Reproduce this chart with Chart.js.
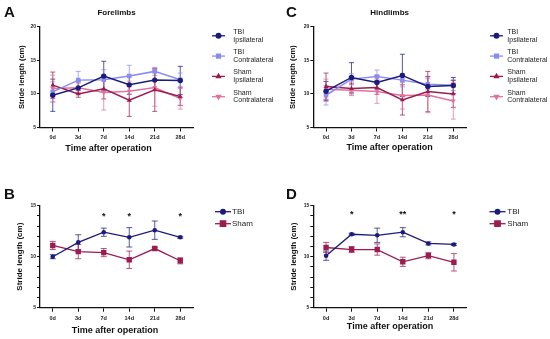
<!DOCTYPE html>
<html>
<head>
<meta charset="utf-8">
<script src="https://cdn.jsdelivr.net/npm/chart.js@4.4.0/dist/chart.umd.min.js"></script>
<style>
  body { margin: 0; background: #fff; width: 550px; height: 339px; position: relative; overflow: hidden; }
  canvas { position: absolute; }
</style>
</head>
<body>
<canvas id="chartC" width="280" height="170" style="left:270px;top:0"></canvas>
<canvas id="chartA" width="285" height="170" style="left:0;top:0"></canvas>
<canvas id="chartB" width="270" height="169" style="left:0;top:170px"></canvas>
<canvas id="chartD" width="280" height="169" style="left:270px;top:170px"></canvas>
<script>
const days = ["0d", "3d", "7d", "14d", "21d", "28d"];

// A: forelimbs
const foreTbiIpsi = [9.8, 10.9, 12.65, 11.35, 12.05, 12.0];
const foreTbiIpsiErr = [2.4, 0.9, 2.2, 1.4, 1.5, 2.1];
const foreTbiContra = [10.3, 12.05, 12.1, 12.65, 13.35, 12.1];
const foreTbiContraErr = [1.5, 1.3, 1.5, 1.6, 0.6, 1.0];
const foreShamIpsi = [11.3, 10.0, 10.75, 9.05, 10.6, 9.6];
const foreShamIpsiErr = [1.95, 0.5, 1.5, 2.4, 3.2, 1.3];
const foreShamContra = [10.8, 10.9, 10.2, 10.4, 10.95, 9.3];
const foreShamContraErr = [2.0, 0.7, 2.6, 1.5, 2.8, 1.55];

// C: hindlimbs
const hindTbiIpsi = [10.4, 12.45, 11.7, 12.75, 11.1, 11.25];
const hindTbiIpsiErr = [1.45, 2.2, 1.0, 3.15, 1.5, 1.2];
const hindTbiContra = [9.8, 12.2, 12.6, 12.05, 11.45, 11.3];
const hindTbiContraErr = [1.45, 0.8, 0.95, 1.0, 0.8, 0.8];
const hindShamIpsi = [11.1, 10.8, 10.95, 9.1, 10.35, 10.0];
const hindShamIpsiErr = [2.0, 0.8, 1.0, 2.25, 3.0, 2.0];
const hindShamContra = [10.7, 10.55, 10.35, 9.75, 9.85, 8.95];
const hindShamContraErr = [1.5, 0.8, 1.75, 2.0, 2.65, 2.7];

// B: forelimbs pooled
const foreTbi = [10.0, 11.4, 12.4, 11.9, 12.6, 11.9];
const foreTbiErr = [0.2, 0.75, 0.4, 0.95, 0.9, 0.1];
const foreSham = [11.1, 10.5, 10.4, 9.7, 10.8, 9.6];
const foreShamErr = [0.4, 0.7, 0.4, 0.85, 0.1, 0.3];
const foreStars = ["", "", "*", "*", "", "*"];

// D: hindlimbs pooled
const hindTbi = [10.1, 12.2, 12.1, 12.4, 11.3, 11.2];
const hindTbiErr = [0.45, 0.1, 0.7, 0.45, 0.15, 0.1];
const hindSham = [10.9, 10.7, 10.7, 9.5, 10.1, 9.45];
const hindShamErr = [0.5, 0.3, 0.55, 0.45, 0.3, 0.85];
const hindStars = ["", "*", "", "**", "", "*"];

const FONT = "'Liberation Sans', Arial, sans-serif";
const NAVY = "#1b1b7c";
const PERI = "#8c8cf0";
const CRIMSON = "#9c1c50";
const PINK = "#e2719d";

// error bars drawn behind the points
const errorBars = {
  id: "errorBars",
  beforeDatasetsDraw(chart, args, opts) {
    const { ctx } = chart;
    const y = chart.scales.y;
    chart.data.datasets.forEach((ds, i) => {
      if (!ds.errors) return;
      const meta = chart.getDatasetMeta(i);
      ctx.save();
      ctx.strokeStyle = ds.errColor || ds.borderColor;
      ctx.lineWidth = 1;
      meta.data.forEach((pt, j) => {
        const e = ds.errors[j];
        const top = y.getPixelForValue(ds.data[j] + e);
        const bot = y.getPixelForValue(ds.data[j] - e);
        ctx.beginPath();
        ctx.moveTo(pt.x, top); ctx.lineTo(pt.x, bot);
        ctx.moveTo(pt.x - opts.cap, top); ctx.lineTo(pt.x + opts.cap, top);
        ctx.moveTo(pt.x - opts.cap, bot); ctx.lineTo(pt.x + opts.cap, bot);
        ctx.stroke();
      });
      ctx.restore();
    });
  }
};

// legend to the right of the plot, labels can be two lines
const sideLegend = {
  id: "sideLegend",
  afterDraw(chart, args, o) {
    const { ctx } = chart;
    ctx.save();
    ctx.font = o.fontSize + "px " + FONT;
    ctx.textBaseline = "middle";
    chart.data.datasets.forEach((ds, i) => {
      const y = o.firstY + i * o.step;
      ctx.strokeStyle = ds.borderColor;
      ctx.lineWidth = o.lineWidth;
      ctx.beginPath();
      ctx.moveTo(o.markerX - o.half, y);
      ctx.lineTo(o.markerX + o.half, y);
      ctx.stroke();
      ctx.fillStyle = ds.borderColor;
      Chart.helpers.drawPoint(ctx, {
        pointStyle: ds.pointStyle, radius: ds.pointRadius * o.markScale,
        rotation: ds.pointRotation || 0, borderWidth: 1
      }, o.markerX, y);
      ctx.fill();
      ctx.fillStyle = "#222";
      const lines = ds.legendLines;
      if (lines.length === 1) {
        ctx.fillText(lines[0], o.textX, y);
      } else {
        ctx.fillText(lines[0], o.textX, y - 4);
        ctx.fillText(lines[1], o.textX, y + 3.8);
      }
    });
    ctx.restore();
  }
};

// panel letter, titles and significance stars
const panelText = {
  id: "panelText",
  afterDraw(chart, args, o) {
    const { ctx, chartArea } = chart;
    const mid = (chartArea.left + chartArea.right) / 2;
    ctx.save();
    ctx.fillStyle = "#111";
    ctx.textBaseline = "middle";
    ctx.font = "bold 15px " + FONT;
    ctx.textAlign = "left";
    ctx.fillText(o.letter, o.letterX, o.letterY);
    ctx.textAlign = "center";
    if (o.title) {
      ctx.font = "bold 8px " + FONT;
      ctx.fillText(o.title, mid, o.titleY);
    }
    ctx.font = "bold 9px " + FONT;
    ctx.fillText("Time after operation", mid + o.xTitleDx, o.xTitleY);
    if (o.stars) {
      const ys = chart.scales.y.getPixelForValue(o.starValue);
      o.stars.forEach((s, j) => {
        if (s) ctx.fillText(s, chart.scales.x.getPixelForValue(j), ys + 2);
      });
    }
    ctx.restore();
  }
};

function makeSet(lines, data, errors, color, style, radius, width, rotation) {
  return {
    legendLines: lines, data, errors,
    borderColor: color, backgroundColor: color, errColor: color + "bb",
    borderWidth: width, pointStyle: style, pointRadius: radius,
    pointBorderWidth: 0, pointRotation: rotation || 0, fill: false, tension: 0
  };
}

function makePanel(id, p) {
  return new Chart(document.getElementById(id), {
    type: "line",
    data: { labels: days, datasets: p.datasets },
    options: {
      responsive: false,
      animation: false,
      layout: { padding: { top: p.top, right: p.right, left: 0, bottom: 0 } },
      plugins: {
        legend: { display: false },
        tooltip: { enabled: false },
        errorBars: { cap: p.cap },
        sideLegend: p.legend,
        panelText: p.text
      },
      scales: {
        x: {
          offset: true,
          grid: { drawOnChartArea: false, tickLength: 4, color: "#111", tickWidth: 1 },
          border: { color: "#111", width: 1.3 },
          ticks: { font: { family: FONT, size: 5.5, weight: "bold" }, color: "#222", padding: 3, maxRotation: 0 },
          afterFit(s) { s.height = p.xHeight; }
        },
        y: {
          min: 5, max: p.max,
          grid: { drawOnChartArea: false, tickLength: 3, color: "#111", tickWidth: 1 },
          border: { color: "#111", width: 1.3 },
          ticks: {
            stepSize: p.step, autoSkip: false, padding: 1,
            font: { family: FONT, size: 5, weight: "bold" }, color: "#222",
            callback: (v) => (v % 5 === 0 ? v : "")
          },
          title: { display: true, text: "Stride length (cm)", font: { family: FONT, size: p.yTitleSize, weight: "bold" }, color: "#111", padding: { top: p.yTitlePad, bottom: 0 } },
          afterFit(s) { s.width = p.yWidth; }
        }
      }
    },
    plugins: [errorBars, sideLegend, panelText]
  });
}

const fourLegend = (mx, tx) => ({ markerX: mx, textX: tx, firstY: 35.8, step: 20.3, fontSize: 7, half: 6.5, lineWidth: 1.3, markScale: 0.85 });
const twoLegend = (mx, tx) => ({ markerX: mx, textX: tx, firstY: 41.7, step: 12, fontSize: 8, half: 8, lineWidth: 1.3, markScale: 1 });

makePanel("chartA", {
  top: 26.7, right: 92, yWidth: 40, xHeight: 42.5, max: 20, step: 5, cap: 2.5,
  yTitlePad: 17, yTitleSize: 7.5,
  datasets: [
    makeSet(["TBI", "Ipsilateral"], foreTbiIpsi, foreTbiIpsiErr, NAVY, "circle", 2.7, 1.5),
    makeSet(["TBI", "Contralateral"], foreTbiContra, foreTbiContraErr, PERI, "rect", 3.2, 1.5),
    makeSet(["Sham", "Ipsilateral"], foreShamIpsi, foreShamIpsiErr, CRIMSON, "triangle", 2.8, 1.5),
    makeSet(["Sham", "Contralateral"], foreShamContra, foreShamContraErr, PINK, "triangle", 2.8, 1.5, 180)
  ],
  legend: fourLegend(218.5, 233.3),
  text: { letter: "A", letterX: 4, letterY: 13, title: "Forelimbs", titleY: 12.5, xTitleY: 149, xTitleDx: -8 }
});

makePanel("chartC", {
  top: 26.7, right: 84, yWidth: 43.3, xHeight: 42.5, max: 20, step: 5, cap: 2.5,
  yTitlePad: 18.5, yTitleSize: 7.5,
  datasets: [
    makeSet(["TBI", "Ipsilateral"], hindTbiIpsi, hindTbiIpsiErr, NAVY, "circle", 2.7, 1.5),
    makeSet(["TBI", "Contralateral"], hindTbiContra, hindTbiContraErr, PERI, "rect", 3.2, 1.5),
    makeSet(["Sham", "Ipsilateral"], hindShamIpsi, hindShamIpsiErr, CRIMSON, "triangle", 2.8, 1.5),
    makeSet(["Sham", "Contralateral"], hindShamContra, hindShamContraErr, PINK, "triangle", 2.8, 1.5, 180)
  ],
  legend: fourLegend(226.5, 237.3),
  text: { letter: "C", letterX: 16, letterY: 13, title: "Hindlimbs", titleY: 12.5, xTitleY: 148, xTitleDx: 0 }
});

makePanel("chartB", {
  top: 35.7, right: 77, yWidth: 40, xHeight: 31.3, max: 15, step: 1, cap: 3,
  yTitlePad: 15, yTitleSize: 8,
  datasets: [
    makeSet(["TBI"], foreTbi, foreTbiErr, NAVY, "circle", 2.3, 1.3),
    makeSet(["Sham"], foreSham, foreShamErr, CRIMSON, "rect", 3.8, 1.3)
  ],
  legend: twoLegend(223, 232),
  text: { letter: "B", letterX: 4, letterY: 25, stars: foreStars, starValue: 14.1, xTitleY: 160.7, xTitleDx: -1.5 }
});

makePanel("chartD", {
  top: 35.7, right: 83.3, yWidth: 43.3, xHeight: 31.3, max: 15, step: 1, cap: 3,
  yTitlePad: 19, yTitleSize: 8,
  datasets: [
    makeSet(["TBI"], hindTbi, hindTbiErr, NAVY, "circle", 2.3, 1.3),
    makeSet(["Sham"], hindSham, hindShamErr, CRIMSON, "rect", 3.8, 1.3)
  ],
  legend: twoLegend(227.5, 237.3),
  text: { letter: "D", letterX: 16, letterY: 25, stars: hindStars, starValue: 14.3, xTitleY: 156.7, xTitleDx: 0 }
});
</script>
</body>
</html>
